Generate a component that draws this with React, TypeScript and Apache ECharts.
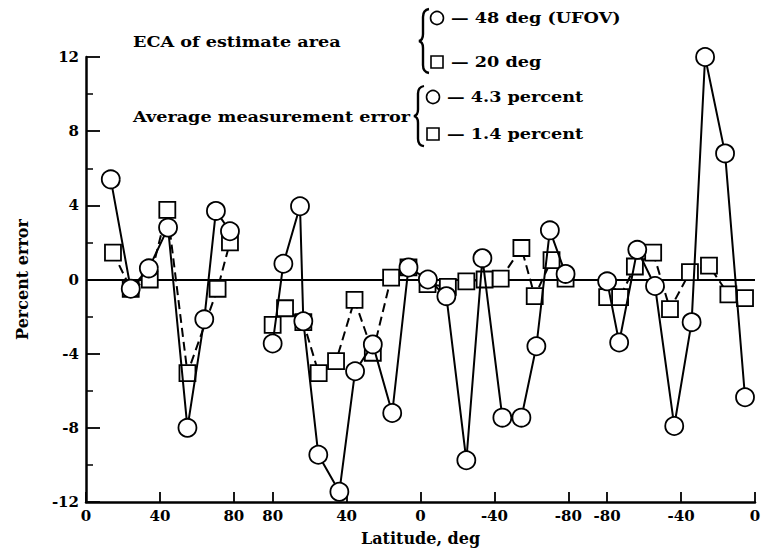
import React, { useEffect, useRef } from "react";
import * as echarts from "echarts";

// ---- axis layout data ----
const GAP = 21; // latitude-degree units between the passes on the axis
const passTickLatitudes = [
  [0, 40, 80],
  [80, 40, 0, -40, -80],
  [-80, -40, 0],
];
const yMin = -12;
const yMax = 12;
const yInterval = 4;

// ---- series data: 48 deg (UFOV) — circles ----
const circlePass1Lat = [13.4, 24.2, 34, 44.4, 54.9, 64, 70.3, 77.9];
const circlePass1Err = [5.4, -0.5, 0.6, 2.8, -8.0, -2.15, 3.7, 2.6];
const circlePass2Lat = [80, 74.2, 65.2, 63.4, 55.3, 43.9, 35.4, 25.8, 15.3, 6.5, -4, -14, -24.8, -33.5, -44.3, -54.6, -62.7, -70, -78.5];
const circlePass2Err = [-3.45, 0.85, 3.95, -2.25, -9.45, -11.45, -4.95, -3.5, -7.2, 0.65, 0.0, -0.9, -9.75, 1.15, -7.45, -7.45, -3.6, 2.65, 0.3];
const circlePass3Lat = [-80, -73.5, -63.7, -54.1, -43.7, -34.3, -27, -16.2, -5.4];
const circlePass3Err = [-0.1, -3.4, 1.6, -0.35, -7.9, -2.3, 12.0, 6.8, -6.35];

// ---- series data: 20 deg — squares ----
const squarePass1Lat = [14.6, 24.2, 34.5, 44, 54.9, 71.2, 77.9];
const squarePass1Err = [1.45, -0.5, 0.0, 3.75, -5.05, -0.5, 2.0];
const squarePass2Lat = [80, 73.3, 63.4, 55.1, 45.7, 35.7, 25.8, 15.9, 6.5, -3.8, -14.8, -24.8, -34.7, -43.4, -54.6, -61.8, -70.9, -78.5];
const squarePass2Err = [-2.45, -1.55, -2.3, -5.05, -4.4, -1.1, -3.95, 0.1, 0.65, -0.25, -0.4, -0.1, 0.0, 0.05, 1.7, -0.9, 1.05, 0.05];
const squarePass3Lat = [-80, -73, -65, -55.1, -46, -35.2, -24.9, -14.4, -5.4];
const squarePass3Err = [-0.95, -0.95, 0.7, 1.45, -1.6, 0.4, 0.75, -0.8, -1.0];

// ---- texts ----
const xAxisName = "Latitude, deg";
const yAxisName = "Percent error";
const legendGroup1Title = "ECA of estimate area";
const legendGroup2Title = "Average measurement error";
const legendCircle1 = "— 48 deg (UFOV)";
const legendSquare1 = "— 20 deg";
const legendCircle2 = "— 4.3 percent";
const legendSquare2 = "— 1.4 percent";

const FONT = "DejaVu Serif";
const STRETCH = 1.26;

function axisPos(pass: number, lat: number): number {
  if (pass === 0) return lat;
  if (pass === 1) return 80 + GAP + (80 - lat);
  return 80 + GAP + 160 + GAP + (lat + 80);
}
const xMax = axisPos(2, 0);

const tickPositions: number[] = [];
const tickLabelMap: Record<string, string> = {};
passTickLatitudes.forEach((lats, p) =>
  lats.forEach((lat) => {
    const pos = axisPos(p, lat);
    tickPositions.push(pos);
    tickLabelMap[String(pos)] = String(lat);
  })
);

let braceRegistered = false;
function registerBrace() {
  if (braceRegistered) return;
  echarts.graphic.registerShape(
    "brace",
    echarts.graphic.extendPath(
      "M10 0 Q4 1 4 8 L4 25 Q4 31 0 32 Q4 33 4 39 L4 56 Q4 63 10 64",
      {}
    )
  );
  braceRegistered = true;
}

function makeSeries(lats: number[], errs: number[], pass: number, kind: "circle" | "square", extra: any = {}) {
  const isCircle = kind === "circle";
  return {
    type: "line",
    data: lats.map((lat, i) => [axisPos(pass, lat), errs[i]]),
    symbol: isCircle ? "circle" : "rect",
    symbolSize: isCircle ? 18 : 16,
    showAllSymbol: true,
    itemStyle: { color: "#fff", borderColor: "#000", borderWidth: 1.8 },
    lineStyle: { color: "#000", width: 2, type: isCircle ? "solid" : [9, 5] },
    z: isCircle ? 4 : 3,
    silent: true,
    ...extra,
  };
}

export default function App() {
  const ref = useRef<HTMLDivElement>(null);
  useEffect(() => {
    if (!ref.current) return;
    registerBrace();
    const chart = echarts.init(ref.current, null, { renderer: "svg" });
    const textStyle = { fontFamily: FONT, fontWeight: "bold", fontSize: 14, fill: "#000" };
    const legendText = (x: number, y: number, text: string) => ({
      type: "text",
      x,
      y,
      scaleX: STRETCH,
      style: { ...textStyle, text, verticalAlign: "middle" },
    });
    const option: any = {
      animation: false,
      backgroundColor: "#fff",
      grid: { left: 86, right: 7, top: 57, bottom: 49, containLabel: false, outerBoundsMode: "none" },
      xAxis: {
        type: "value",
        min: 0,
        max: xMax,
        name: xAxisName,
        nameLocation: "middle",
        nameGap: 28,
        nameTextStyle: { fontFamily: FONT, fontWeight: "bold", fontSize: 16, color: "#000" },
        axisLine: { show: true, onZero: false, lineStyle: { color: "#000", width: 2.5 } },
        axisTick: { show: true, inside: true, length: 10, customValues: tickPositions, lineStyle: { color: "#000", width: 1.8 } },
        axisLabel: {
          show: true,
          customValues: tickPositions,
          margin: 6,
          fontFamily: FONT,
          fontWeight: "bold",
          fontSize: 15,
          color: "#000",
          formatter: (v: number) => tickLabelMap[String(v)] ?? "",
        },
        splitLine: { show: false },
      },
      yAxis: {
        type: "value",
        min: yMin,
        max: yMax,
        interval: yInterval,
        name: yAxisName,
        nameLocation: "middle",
        nameGap: 56,
        nameRotate: 90,
        nameTextStyle: { fontFamily: FONT, fontWeight: "bold", fontSize: 16, color: "#000" },
        axisLine: { show: true, lineStyle: { color: "#000", width: 2.5 } },
        axisTick: { show: true, inside: true, length: 14, lineStyle: { color: "#000", width: 1.8 } },
        minorTick: { show: true, splitNumber: 2, length: 7, lineStyle: { color: "#000", width: 1.5 } },
        axisLabel: { margin: 7, fontFamily: FONT, fontWeight: "bold", fontSize: 15, color: "#000" },
        splitLine: { show: false },
        minorSplitLine: { show: false },
      },
      series: [
        makeSeries(squarePass1Lat, squarePass1Err, 0, "square", {
          markLine: {
            silent: true,
            symbol: ["none", "none"],
            label: { show: false },
            lineStyle: { color: "#000", width: 2, type: "solid" },
            data: [{ yAxis: 0 }],
            z: 2,
          },
        }),
        makeSeries(squarePass2Lat, squarePass2Err, 1, "square"),
        makeSeries(squarePass3Lat, squarePass3Err, 2, "square"),
        makeSeries(circlePass1Lat, circlePass1Err, 0, "circle"),
        makeSeries(circlePass2Lat, circlePass2Err, 1, "circle"),
        makeSeries(circlePass3Lat, circlePass3Err, 2, "circle"),
      ],
      graphic: [
        legendText(133, 42, legendGroup1Title),
        legendText(133, 117, legendGroup2Title),
        { type: "brace", x: 419, y: 9, style: { fill: "none", stroke: "#000", lineWidth: 2.4 } },
        { type: "brace", x: 414, y: 86, scaleY: 0.94, style: { fill: "none", stroke: "#000", lineWidth: 2.4 } },
        { type: "circle", shape: { cx: 437, cy: 18, r: 6.5 }, style: { fill: "#fff", stroke: "#000", lineWidth: 1.6 } },
        { type: "rect", shape: { x: 431, y: 56, width: 12, height: 12 }, style: { fill: "#fff", stroke: "#000", lineWidth: 1.6 } },
        { type: "circle", shape: { cx: 433, cy: 97, r: 6.5 }, style: { fill: "#fff", stroke: "#000", lineWidth: 1.6 } },
        { type: "rect", shape: { x: 427, y: 128, width: 12, height: 12 }, style: { fill: "#fff", stroke: "#000", lineWidth: 1.6 } },
        legendText(451, 18, legendCircle1),
        legendText(451, 62, legendSquare1),
        legendText(447, 97, legendCircle2),
        legendText(447, 134, legendSquare2),
      ],
    };
    chart.setOption(option);
    return () => chart.dispose();
  }, []);
  return (
    <div
      ref={ref}
      style={{ position: "fixed", left: 0, top: 0, width: 762, height: 551, background: "#fff" }}
    />
  );
}
